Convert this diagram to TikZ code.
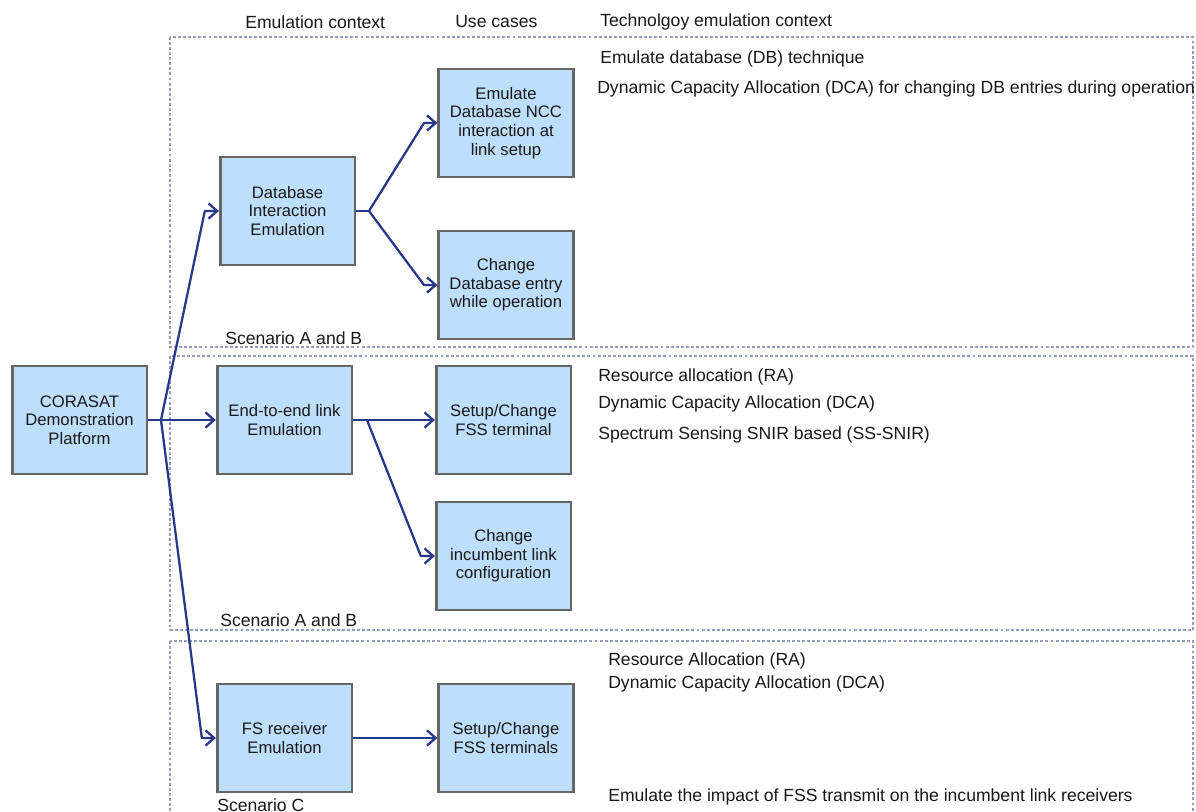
\documentclass[tikz,border=0pt]{standalone}
\usepackage{fontspec}
\setmainfont{Liberation Sans}
\usetikzlibrary{arrows.meta}
\definecolor{boxfill}{RGB}{189,222,252}
\definecolor{boxline}{RGB}{102,102,102}
\definecolor{linkblue}{RGB}{38,56,138}
\definecolor{framegrey}{RGB}{150,156,192}
\definecolor{txt}{RGB}{25,25,25}
\begin{document}
\begin{tikzpicture}[x=0.75pt,y=-0.75pt,
  box/.style={draw=boxline, line width=2pt, fill=boxfill, minimum width=101pt,
    minimum height=81pt, align=center, text=txt, inner sep=2pt,
    font=\fontsize{12.5}{14}\selectfont},
  link/.style={draw=linkblue, line width=1.7pt, line join=round},
  arr/.style={link, -{Straight Barb[length=6.5pt,width=11.5pt,line width=1.7pt]}},
  frame/.style={draw=framegrey, line width=0.8pt, dash pattern=on 2.2pt off 1.6pt},
  lbl/.style={anchor=west, inner sep=0pt, text=txt, font=\fontsize{13.2}{15}\selectfont},
]
\useasboundingbox (0,0) rectangle (1196,812);
\clip (0,0) rectangle (1196,812);
\fill[white] (0,0) rectangle (1196,812);

% scenario frames
\draw[frame] (170,37) rectangle (1193,347);
\draw[frame] (170,356) rectangle (1193,630);
\draw[frame] (170,641) rectangle (1193,840);

% column headers
\node[lbl] (hemu) at (245,22) {Emulation context};
\node[lbl] (huse) at (455,22) {Use cases};
\node[lbl] (htec) at (600,22) {Technolgoy emulation context};

% boxes
\node[box] (cor)  at (79.5,420)  {CORASAT\\Demonstration\\Platform};
\node[box] (dbi)  at (287.5,211) {Database\\Interaction\\Emulation};
\node[box] (ncc)  at (506,123)   {Emulate\\Database NCC\\interaction at\\link setup};
\node[box] (chg)  at (506,285)   {Change\\Database entry\\while operation};
\node[box] (e2e)  at (284.5,420) {End-to-end link\\Emulation};
\node[box] (fss)  at (503.5,420) {Setup/Change\\FSS terminal};
\node[box] (inc)  at (503.5,556) {Change\\incumbent link\\configuration};
\node[box] (fsr)  at (284.5,738) {FS receiver\\Emulation};
\node[box] (fsst) at (506,738)   {Setup/Change\\FSS terminals};

% branch points
\coordinate (j0) at (161,420);
\coordinate (j1) at (369,211);
\coordinate (j2) at (367,420);

% connectors
\draw[arr] (cor.east) -- (e2e.west);
\draw[arr] (j0) -- ([xshift=-10.5pt]dbi.west) -- (dbi.west);
\draw[arr] (j0) -- ([xshift=-10.5pt]fsr.west) -- (fsr.west);
\draw[link] (dbi.east) -- (j1);
\draw[arr] (j1) -- ([xshift=-10pt]ncc.west) -- (ncc.west);
\draw[arr] (j1) -- ([xshift=-10pt]chg.west) -- (chg.west);
\draw[arr] (e2e.east) -- (fss.west);
\draw[arr] (j2) -- ([xshift=-10.5pt]inc.west) -- (inc.west);
\draw[arr] (fsr.east) -- (fsst.west);

% scenario labels
\node[lbl] (sab1) at (225,338) {Scenario A and B};
\node[lbl] (sab2) at (220,620) {Scenario A and B};
\node[lbl] (sc)   at (217,805) {Scenario C};

% technology notes
\node[lbl] (t1a) at (600,59)  {Emulate database (DB) technique};
\node[lbl] (t1b) at (597,89)  {Dynamic Capacity Allocation (DCA) for changing DB entries during operation};
\node[lbl] (t2a) at (598,377) {Resource allocation (RA)};
\node[lbl] (t2b) at (598,404) {Dynamic Capacity Allocation (DCA)};
\node[lbl] (t2c) at (598,435) {Spectrum Sensing SNIR based (SS-SNIR)};
\node[lbl] (t3a) at (608,661) {Resource Allocation (RA)};
\node[lbl] (t3b) at (608,684) {Dynamic Capacity Allocation (DCA)};
\node[lbl] (t3c) at (608,797) {Emulate the impact of FSS transmit on the incumbent link receivers};
\end{tikzpicture}
\end{document}
